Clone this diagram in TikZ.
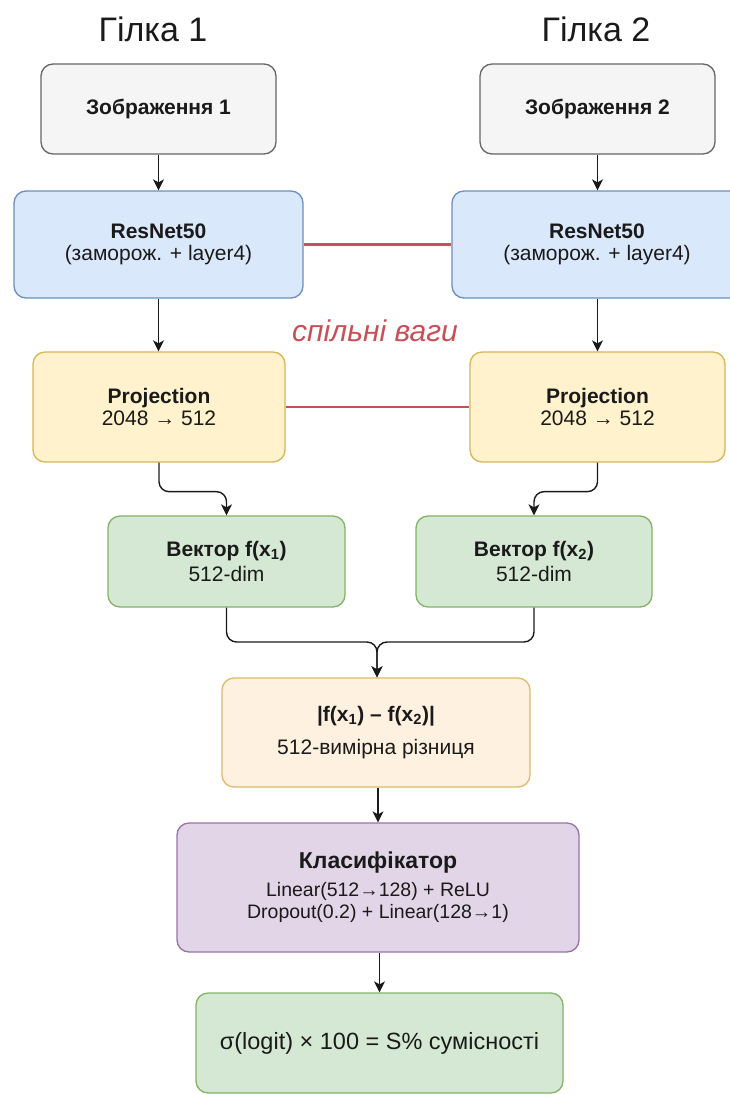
\documentclass[tikz,border=0pt]{standalone}
\usepackage{fontspec}
\setmainfont{Liberation Sans}
\usetikzlibrary{arrows.meta}

\definecolor{greyfill}{HTML}{F5F5F5}\definecolor{greyline}{HTML}{666666}
\definecolor{bluefill}{HTML}{DAE8FC}\definecolor{blueline}{HTML}{6C8EBF}
\definecolor{yelfill}{HTML}{FFF2CC}\definecolor{yelline}{HTML}{D6B656}
\definecolor{grnfill}{HTML}{D5E8D4}\definecolor{grnline}{HTML}{82B366}
\definecolor{peachfill}{HTML}{FFF1E0}\definecolor{peachline}{HTML}{E0B96A}
\definecolor{purfill}{HTML}{E1D5E7}\definecolor{purline}{HTML}{9673A6}
\definecolor{shared}{HTML}{C94F55}
\definecolor{ink}{HTML}{1A1A1A}

\newcommand{\fs}[2]{\fontsize{#1}{#2}\selectfont}

\tikzset{
  box/.style={rectangle, rounded corners=12pt, line width=1.3pt, align=center,
    inner sep=0pt, text=ink, font=\fs{21}{22.5}},
  greybox/.style={box, fill=greyfill, draw=greyline},
  bluebox/.style={box, fill=bluefill, draw=blueline},
  yelbox/.style={box, fill=yelfill, draw=yelline},
  grnbox/.style={box, fill=grnfill, draw=grnline},
  peachbox/.style={box, fill=peachfill, draw=peachline},
  purbox/.style={box, fill=purfill, draw=purline},
  flow/.style={draw=ink, line width=1.4pt, rounded corners=10pt,
    -{Stealth[length=11pt,width=11pt,inset=3pt]}},
  tie/.style={draw=shared, line width=2.5pt},
  title/.style={font=\fs{34}{38}, text=ink, inner sep=0pt}
}

\begin{document}
\begin{tikzpicture}[x=1pt, y=-1pt]
  \useasboundingbox (0,0) rectangle (730,1095);

  % branch titles
  \node[title] (t1) at (153,29) {Гілка 1};
  \node[title] (t2) at (596,29) {Гілка 2};

  % input images
  \node[greybox, minimum width=235pt, minimum height=90pt] (img1) at (158.5,109)
    {\textbf{Зображення 1}};
  \node[greybox, minimum width=235pt, minimum height=90pt] (img2) at (597.5,109)
    {\textbf{Зображення 2}};

  % shared backbone
  \node[bluebox, minimum width=289pt, minimum height=107pt] (res1) at (158.5,244.5)
    {\textbf{ResNet50}\\(заморож. + layer4)};
  \node[bluebox, minimum width=290pt, minimum height=107pt] (res2) at (597,244.5)
    {\textbf{ResNet50}\\(заморож. + layer4)};

  % projection heads
  \node[yelbox, minimum width=252pt, minimum height=110pt] (proj1) at (159,407)
    {\textbf{Projection}\\2048 → 512};
  \node[yelbox, minimum width=255pt, minimum height=110pt] (proj2) at (597.5,407)
    {\textbf{Projection}\\2048 → 512};

  % embeddings
  \node[grnbox, minimum width=237pt, minimum height=91pt] (vec1) at (226.5,561.5)
    {\textbf{Вектор f(x\textsubscript{1})}\\[3pt]512-dim};
  \node[grnbox, minimum width=236pt, minimum height=91pt] (vec2) at (534,561.5)
    {\textbf{Вектор f(x\textsubscript{2})}\\[3pt]512-dim};

  % difference, classifier, output
  \node[peachbox, minimum width=308pt, minimum height=109pt] (diff) at (376,732.5)
    {\textbf{|f(x\textsubscript{1}) – f(x\textsubscript{2})|}\\[11pt]512-вимірна різниця};
  \node[purbox, minimum width=402pt, minimum height=129pt] (cls) at (378,887.5)
    {{\fs{23}{26}\textbf{Класифікатор}}\\[5pt]
     {\fs{19.5}{28}Linear(512→128) + ReLU}\\
     {\fs{19.5}{28}Dropout(0.2) + Linear(128→1)}};
  \node[grnbox, minimum width=367pt, minimum height=100pt, font=\fs{23.5}{26}] (out) at (379.5,1043)
    {σ(logit) × 100 = S\% сумісності};

  % weight sharing ties
  \draw[tie] (res1.east) -- (res2.west);
  \draw[tie] (proj1.east) -- (proj2.west);
  \node[text=shared, font=\fs{30}{34}\itshape, inner sep=0pt] (sharedlbl) at (375,331) {спільні ваги};

  % data flow
  \draw[flow] (img1.south) -- (res1.north -| img1.south);
  \draw[flow] (img2.south) -- (res2.north -| img2.south);
  \draw[flow] (res1.south -| img1.south) -- (proj1.north -| img1.south);
  \draw[flow] (res2.south -| img2.south) -- (proj2.north -| img2.south);
  \draw[flow] (proj1.south) -- ++(0,29) -| (vec1.north);
  \draw[flow] (proj2.south) -- ++(0,29) -| (vec2.north);
  \coordinate (merge) at (377,642);
  \draw[flow] (vec1.south) |- (merge) -- (diff.north -| merge);
  \draw[flow] (vec2.south) |- (merge) -- (diff.north -| merge);
  \draw[flow] (diff.south -| cls.north) -- (cls.north);
  \draw[flow] (cls.south -| out.north) -- (out.north);
\end{tikzpicture}
\end{document}
